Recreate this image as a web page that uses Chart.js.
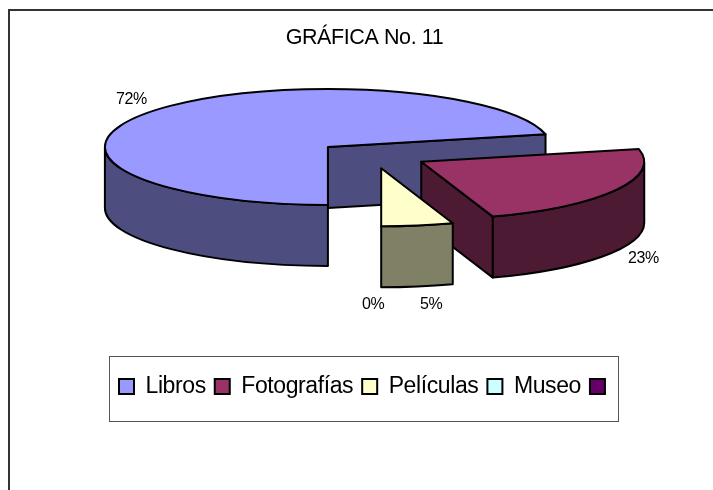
<!DOCTYPE html>
<html lang="es">
<head>
<meta charset="utf-8">
<title>Gráfica No. 11</title>
<script src="https://cdn.jsdelivr.net/npm/chart.js@4"></script>
<style>
  html, body { margin: 0; padding: 0; background: #fff; }
  canvas { display: block; }
</style>
</head>
<body>
<canvas id="pie-chart" width="713" height="490"></canvas>
<script>
const chartTitle = "GRÁFICA No. 11";
const categories = ["Libros", "Fotografías", "Películas", "Museo", ""];
const shares = [71.5, 23.3, 5.2, 0, 0];
const topColors = ["#9999FF", "#993366", "#FFFFCC", "#CCFFFF", "#660066"];
const sideColors = ["#4D4D80", "#4D1A33", "#808066", "#668080", "#330033"];

// where the percent labels sit, left edge and baseline, one per labelled slice
const labelSpots = [[116, 104], [628, 263], [420, 309], [362, 309]];

// fake 3D: pie centre, flattening, drop of the wall, how far slices are pulled out
const pieX = 372;
const pieY = 155.2;
const flatten = 0.26;
const flattenPull = 0.235;
const depth = 61;
const pull = 56.5;

const fontName = "'Liberation Sans', Arial, sans-serif";

function sliceCentre(arc) {
  const mid = (arc.startAngle + arc.endAngle) / 2;
  return {
    x: pieX + Math.cos(mid) * pull,
    y: pieY + Math.sin(mid) * pull * flattenPull,
  };
}

function drawCutFace(ctx, c, r, angle, color) {
  const x = c.x + Math.cos(angle) * r;
  const y = c.y + Math.sin(angle) * r * flatten;
  ctx.beginPath();
  ctx.moveTo(c.x, c.y);
  ctx.lineTo(x, y);
  ctx.lineTo(x, y + depth);
  ctx.lineTo(c.x, c.y + depth);
  ctx.closePath();
  ctx.fillStyle = color;
  ctx.fill();
  ctx.stroke();
}

function drawWall(ctx, c, r, arc, color) {
  // only the part of the rim that faces the viewer, canvas angles 0..PI
  for (let n = 0; n < 2; n++) {
    const from = Math.max(arc.startAngle, n * 2 * Math.PI);
    const to = Math.min(arc.endAngle, Math.PI + n * 2 * Math.PI);
    if (to <= from) continue;
    ctx.beginPath();
    ctx.ellipse(c.x, c.y, r, r * flatten, 0, from, to);
    ctx.ellipse(c.x, c.y + depth, r, r * flatten, 0, to, from, true);
    ctx.closePath();
    ctx.fillStyle = color;
    ctx.fill();
    ctx.stroke();
  }
}

function drawSlice(ctx, arc, i) {
  if (arc.endAngle - arc.startAngle <= 0) return;
  const c = sliceCentre(arc);
  const r = arc.outerRadius;

  ctx.save();
  ctx.strokeStyle = "#000";
  ctx.lineWidth = 2;
  ctx.lineJoin = "round";

  if (-Math.cos(arc.startAngle) > 0.001) drawCutFace(ctx, c, r, arc.startAngle, sideColors[i]);
  if (Math.cos(arc.endAngle) > 0.001) drawCutFace(ctx, c, r, arc.endAngle, sideColors[i]);
  drawWall(ctx, c, r, arc, sideColors[i]);

  // top face is the library's own arc, squashed into place
  ctx.save();
  ctx.translate(c.x, c.y);
  ctx.scale(1, flatten);
  ctx.translate(-arc.x, -arc.y);
  arc.draw(ctx);
  ctx.restore();

  ctx.beginPath();
  ctx.moveTo(c.x, c.y);
  ctx.ellipse(c.x, c.y, r, r * flatten, 0, arc.startAngle, arc.endAngle);
  ctx.closePath();
  ctx.stroke();
  ctx.restore();
}

const pie3d = {
  id: "pie3d",
  beforeUpdate(chart) {
    chart.ctx.letterSpacing = "-0.4px";
  },
  afterLayout(chart) {
    // move title and legend to where the original has them
    const title = chart.titleBlock;
    title.left = 16;
    title.right = 713;
    title.top = 25;
    title.bottom = 52;

    const legend = chart.legend;
    legend.left = 110;
    legend.right = 713;
    legend.top = 366;
    legend.bottom = 410;
  },
  beforeDraw(chart) {
    const ctx = chart.ctx;
    ctx.letterSpacing = "-0.4px";
    ctx.save();
    ctx.strokeStyle = "#333";
    ctx.lineWidth = 2;
    ctx.beginPath();
    ctx.moveTo(9, 490);
    ctx.lineTo(9, 10);
    ctx.lineTo(713, 10);
    ctx.stroke();

    ctx.strokeStyle = "#555";
    ctx.lineWidth = 1;
    ctx.strokeRect(109.5, 356.5, 509, 65);
    ctx.restore();
  },
  beforeDatasetDraw(chart) {
    const ctx = chart.ctx;
    chart.getDatasetMeta(0).data.forEach((arc, i) => drawSlice(ctx, arc, i));

    ctx.save();
    ctx.fillStyle = "#000";
    ctx.font = "16px " + fontName;
    ctx.textAlign = "left";
    ctx.textBaseline = "alphabetic";
    labelSpots.forEach(([x, y], i) => {
      ctx.fillText(Math.round(shares[i]) + "%", x, y);
    });
    ctx.restore();
    return false;
  },
};

new Chart(document.getElementById("pie-chart"), {
  type: "pie",
  data: {
    labels: categories,
    datasets: [
      {
        data: shares,
        backgroundColor: topColors,
        borderWidth: 0,
      },
    ],
  },
  options: {
    responsive: false,
    animation: false,
    rotation: 180,
    radius: 223,
    events: [],
    plugins: {
      tooltip: { enabled: false },
      title: {
        display: true,
        text: chartTitle,
        color: "#000",
        padding: 0,
        font: { family: fontName, size: 21.5, weight: "normal" },
      },
      legend: {
        position: "bottom",
        align: "start",
        labels: {
          color: "#000",
          boxWidth: 15,
          boxHeight: 15,
          padding: 9,
          font: { family: fontName, size: 23 },
          generateLabels: () =>
            categories.map((name, i) => ({
              text: name,
              fillStyle: topColors[i],
              strokeStyle: "#000",
              lineWidth: 2,
              hidden: false,
              index: i,
            })),
        },
      },
    },
  },
  plugins: [pie3d],
});
</script>
</body>
</html>
